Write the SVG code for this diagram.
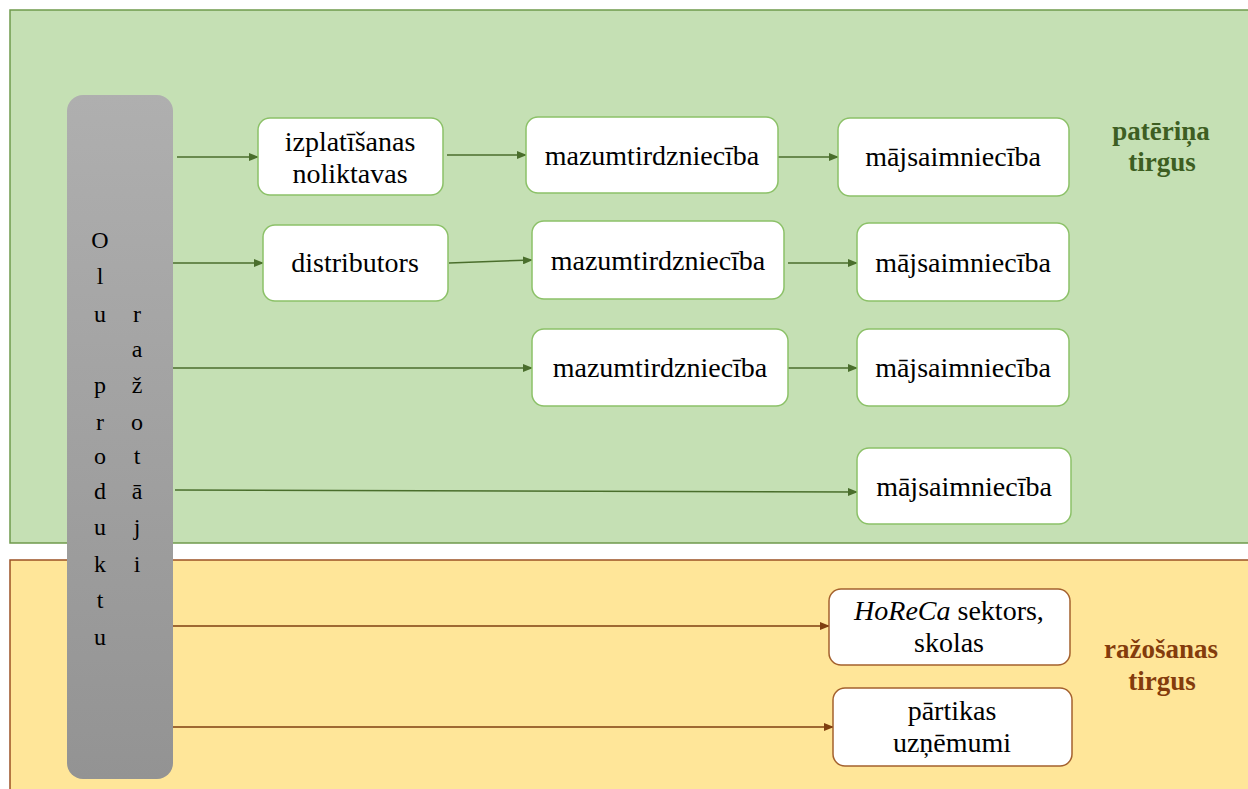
<svg xmlns="http://www.w3.org/2000/svg" width="1248" height="789" viewBox="0 0 1248 789">
<defs>
<linearGradient id="gcol" x1="0" y1="0" x2="0" y2="1">
<stop offset="0" stop-color="#afafaf"/>
<stop offset="1" stop-color="#939393"/>
</linearGradient>
<marker id="ag" markerWidth="10" markerHeight="8" refX="9" refY="4" orient="auto" markerUnits="userSpaceOnUse">
<path d="M0,0 L10,4 L0,8 z" fill="#4a6e2c"/>
</marker>
<marker id="ab" markerWidth="10" markerHeight="8" refX="9" refY="4" orient="auto" markerUnits="userSpaceOnUse">
<path d="M0,0 L10,4 L0,8 z" fill="#7f3f10"/>
</marker>
</defs>
<rect width="1248" height="789" fill="#fff"/>
<g id="panels">
<rect x="10" y="10" width="1250" height="533" fill="#c5e0b4" stroke="#6f9a4c" stroke-width="1.5"/>
<rect x="10" y="560" width="1250" height="240" fill="#ffe699" stroke="#9c5224" stroke-width="1.5"/>
</g>
<g id="connectors" stroke-width="1.5" fill="none">
<g stroke="#4a6e2c" marker-end="url(#ag)">
<line x1="177" y1="157" x2="258" y2="157"/>
<line x1="447" y1="155" x2="526" y2="155"/>
<line x1="778" y1="157" x2="838" y2="157"/>
<line x1="172" y1="263" x2="263" y2="263"/>
<line x1="449" y1="263" x2="532" y2="260"/>
<line x1="788" y1="263" x2="857" y2="263"/>
<line x1="172" y1="368" x2="532" y2="368"/>
<line x1="788" y1="368" x2="857" y2="368"/>
<line x1="175" y1="490" x2="857" y2="492"/>
</g>
<g stroke="#7f3f10" marker-end="url(#ab)">
<line x1="172" y1="626" x2="829" y2="626"/>
<line x1="172" y1="727" x2="833" y2="727"/>
</g>
</g>
<g id="n1"><rect x="258" y="118" width="185" height="77" rx="12" fill="#fff" stroke="#8cc168" stroke-width="1.5"/><text x="350" y="151" text-anchor="middle" font-family="Liberation Serif" font-size="28">izplatīšanas</text><text x="350" y="183" text-anchor="middle" font-family="Liberation Serif" font-size="28">noliktavas</text></g>
<g id="n2"><rect x="526" y="117" width="252" height="76" rx="12" fill="#fff" stroke="#8cc168" stroke-width="1.5"/><text x="652" y="165" text-anchor="middle" font-family="Liberation Serif" font-size="28">mazumtirdzniecība</text></g>
<g id="n3"><rect x="838" y="118" width="231" height="78" rx="12" fill="#fff" stroke="#8cc168" stroke-width="1.5"/><text x="953" y="166" text-anchor="middle" font-family="Liberation Serif" font-size="28">mājsaimniecība</text></g>
<g id="n4"><rect x="263" y="225" width="185" height="76" rx="12" fill="#fff" stroke="#8cc168" stroke-width="1.5"/><text x="355" y="272" text-anchor="middle" font-family="Liberation Serif" font-size="28">distributors</text></g>
<g id="n5"><rect x="532" y="221" width="252" height="78" rx="12" fill="#fff" stroke="#8cc168" stroke-width="1.5"/><text x="658" y="270" text-anchor="middle" font-family="Liberation Serif" font-size="28">mazumtirdzniecība</text></g>
<g id="n6"><rect x="857" y="223" width="212" height="78" rx="12" fill="#fff" stroke="#8cc168" stroke-width="1.5"/><text x="963" y="272" text-anchor="middle" font-family="Liberation Serif" font-size="28">mājsaimniecība</text></g>
<g id="n7"><rect x="532" y="329" width="256" height="77" rx="12" fill="#fff" stroke="#8cc168" stroke-width="1.5"/><text x="660" y="377" text-anchor="middle" font-family="Liberation Serif" font-size="28">mazumtirdzniecība</text></g>
<g id="n8"><rect x="857" y="329" width="212" height="77" rx="12" fill="#fff" stroke="#8cc168" stroke-width="1.5"/><text x="963" y="377" text-anchor="middle" font-family="Liberation Serif" font-size="28">mājsaimniecība</text></g>
<g id="n9"><rect x="857" y="448" width="214" height="76" rx="12" fill="#fff" stroke="#8cc168" stroke-width="1.5"/><text x="964" y="496" text-anchor="middle" font-family="Liberation Serif" font-size="28">mājsaimniecība</text></g>
<g id="n10"><rect x="829" y="589" width="241" height="76" rx="12" fill="#fff" stroke="#a4612e" stroke-width="1.5"/><text x="949" y="620" text-anchor="middle" font-family="Liberation Serif" font-size="28"><tspan font-style="italic">HoReCa</tspan> sektors,</text><text x="949" y="652" text-anchor="middle" font-family="Liberation Serif" font-size="28">skolas</text></g>
<g id="n11"><rect x="833" y="688" width="239" height="78" rx="12" fill="#fff" stroke="#a4612e" stroke-width="1.5"/><text x="952" y="720" text-anchor="middle" font-family="Liberation Serif" font-size="28">pārtikas</text><text x="952" y="752" text-anchor="middle" font-family="Liberation Serif" font-size="28">uzņēmumi</text></g>
<g id="producers">
<rect x="67" y="95" width="106" height="684" rx="16" fill="url(#gcol)"/>
<text x="100" y="248" text-anchor="middle" font-family="Liberation Serif" font-size="24">O</text>
<text x="100" y="284" text-anchor="middle" font-family="Liberation Serif" font-size="24">l</text>
<text x="100" y="322" text-anchor="middle" font-family="Liberation Serif" font-size="24">u</text>
<text x="100" y="393" text-anchor="middle" font-family="Liberation Serif" font-size="24">p</text>
<text x="100" y="430" text-anchor="middle" font-family="Liberation Serif" font-size="24">r</text>
<text x="100" y="464" text-anchor="middle" font-family="Liberation Serif" font-size="24">o</text>
<text x="100" y="499" text-anchor="middle" font-family="Liberation Serif" font-size="24">d</text>
<text x="100" y="535" text-anchor="middle" font-family="Liberation Serif" font-size="24">u</text>
<text x="100" y="572" text-anchor="middle" font-family="Liberation Serif" font-size="24">k</text>
<text x="100" y="608" text-anchor="middle" font-family="Liberation Serif" font-size="24">t</text>
<text x="100" y="645" text-anchor="middle" font-family="Liberation Serif" font-size="24">u</text>
<text x="137" y="322" text-anchor="middle" font-family="Liberation Serif" font-size="24">r</text>
<text x="137" y="357" text-anchor="middle" font-family="Liberation Serif" font-size="24">a</text>
<text x="137" y="393" text-anchor="middle" font-family="Liberation Serif" font-size="24">ž</text>
<text x="137" y="430" text-anchor="middle" font-family="Liberation Serif" font-size="24">o</text>
<text x="137" y="464" text-anchor="middle" font-family="Liberation Serif" font-size="24">t</text>
<text x="137" y="499" text-anchor="middle" font-family="Liberation Serif" font-size="24">ā</text>
<text x="137" y="535" text-anchor="middle" font-family="Liberation Serif" font-size="24">j</text>
<text x="137" y="572" text-anchor="middle" font-family="Liberation Serif" font-size="24">i</text>
</g>
<g id="market-labels" text-anchor="middle" font-family="Liberation Serif" font-size="27" font-weight="bold">
<text x="1161" y="140" fill="#3d5e22">patēriņa</text>
<text x="1162" y="171" fill="#3d5e22">tirgus</text>
<text x="1161" y="658" fill="#843c0c">ražošanas</text>
<text x="1162" y="690" fill="#843c0c">tirgus</text>
</g>
</svg>
